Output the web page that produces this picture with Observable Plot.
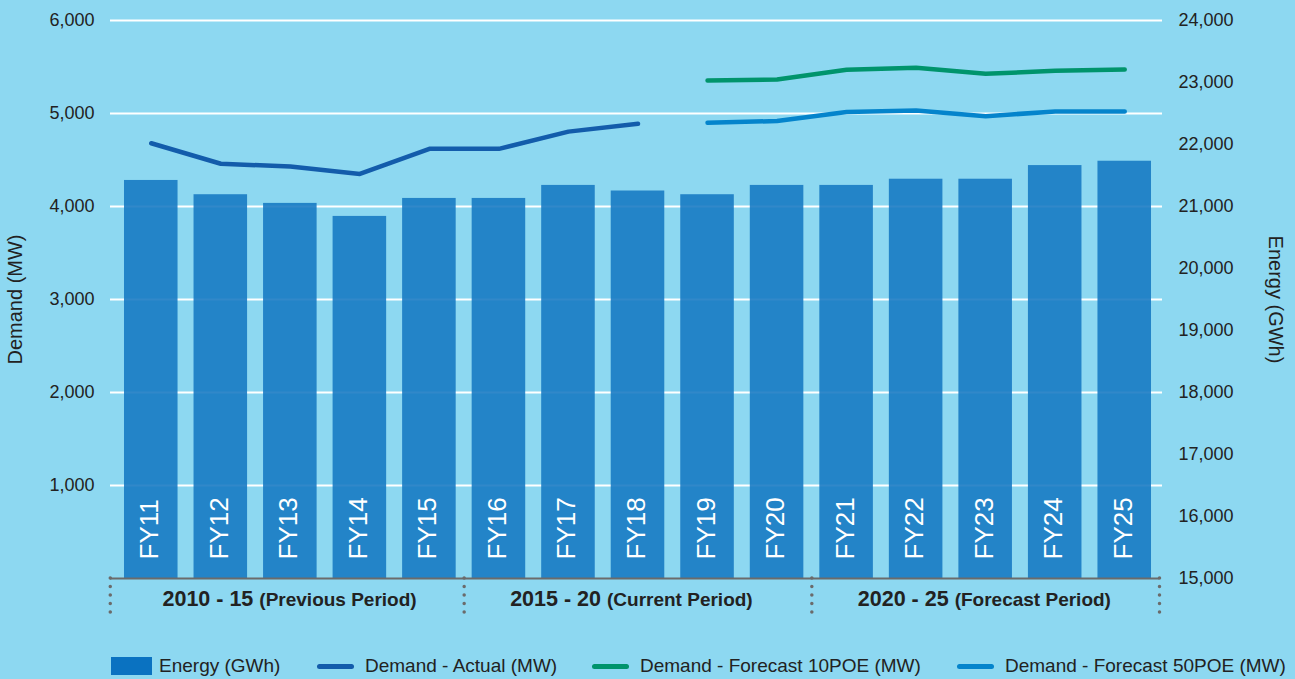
<!DOCTYPE html>
<html>
<head>
<meta charset="utf-8">
<script src="https://cdn.jsdelivr.net/npm/d3@7"></script>
<script src="https://cdn.jsdelivr.net/npm/@observablehq/plot@0.6"></script>
<style>
html, body { margin: 0; padding: 0; background: #8dd8f1; width: 1295px; height: 679px; overflow: hidden;
  font-family: "Liberation Sans", Arial, sans-serif; }
#chart { position: absolute; left: 0; top: 0; }
#legend { position: absolute; left: 0; top: 656px; width: 1295px; height: 20px; font-size: 19px; color: #222; }
.item { position: absolute; top: 0; height: 20px; display: flex; align-items: center; white-space: nowrap; }
.sw-rect { width: 41px; height: 18px; margin-right: 7px; }
.sw-line { width: 37px; height: 5px; border-radius: 3px; margin-right: 11px; }
</style>
</head>
<body>
<div id="chart"></div>
<div id="legend"></div>
<script>
// ---- data ----
const categories = ["FY11","FY12","FY13","FY14","FY15","FY16","FY17","FY18","FY19","FY20","FY21","FY22","FY23","FY24","FY25"];
const energyGWh = [21420, 21190, 21050, 20840, 21130, 21130, 21340, 21250, 21190, 21340, 21340, 21440, 21440, 21660, 21730];
const actualCats = ["FY11","FY12","FY13","FY14","FY15","FY16","FY17","FY18"];
const demandActual = [4680, 4460, 4430, 4350, 4620, 4620, 4805, 4890];
const forecastCats = ["FY19","FY20","FY21","FY22","FY23","FY24","FY25"];
const demand10POE = [5355, 5366, 5470, 5491, 5427, 5459, 5473];
const demand50POE = [4900, 4919, 5016, 5032, 4971, 5022, 5022];
const leftTicks = [1000, 2000, 3000, 4000, 5000, 6000];
const rightTicks = [15000, 16000, 17000, 18000, 19000, 20000, 21000, 22000, 23000, 24000];
const periodMid = ["FY13", "FY18", "FY23"];
const periodYears = ["2010 - 15", "2015 - 20", "2020 - 25"];
const periodNames = ["(Previous Period)", "(Current Period)", "(Forecast Period)"];
const legendLabels = ["Energy (GWh)", "Demand - Actual (MW)", "Demand - Forecast 10POE (MW)", "Demand - Forecast 50POE (MW)"];

// ---- styles ----
const colBar = "#1477c1", colActual = "#135cab", col10 = "#00946c", col50 = "#0484cc";
const font = "'Liberation Sans', Arial, sans-serif";

// energy (right axis 15,000–24,000) mapped into demand space (0–6,000)
const eMin = 15000, eMax = 24000, dMax = 6000;
const toLeft = e => (e - eMin) * dMax / (eMax - eMin);
const fromLeft = v => eMin + v * (eMax - eMin) / dMax;

const bars = categories.map((c, i) => ({cat: c, e: energyGWh[i]}));
const actual = actualCats.map((c, i) => ({cat: c, v: demandActual[i]}));
const f10 = forecastCats.map((c, i) => ({cat: c, v: demand10POE[i]}));
const f50 = forecastCats.map((c, i) => ({cat: c, v: demand50POE[i]}));

const W = 1295, H = 640, mL = 116, mR = 136, mT = 20, mB = 62;
const step = (W - mL - mR) / categories.length;
const fmt = d3.format(",");

const sepStyle = {stroke: "#6b6b6b", strokeWidth: 3.5, strokeDasharray: "0,8.5", strokeLinecap: "round",
  insetTop: H - mB - mT, insetBottom: -36};

const chart = Plot.plot({
  width: W, height: H, marginTop: mT, marginBottom: mB, marginLeft: mL, marginRight: mR,
  style: {background: "transparent", fontFamily: font, overflow: "visible"},
  x: {type: "band", domain: categories, paddingInner: 0.23, paddingOuter: 0.115, round: false, axis: null},
  y: {domain: [0, dMax], axis: null, label: null},
  marks: [
    Plot.ruleY(leftTicks, {stroke: "white", strokeWidth: 2, insetLeft: -6, insetRight: -3}),
    Plot.barY(bars, {x: "cat", y: d => toLeft(d.e), fill: colBar, fillOpacity: 0.88}),
    Plot.ruleY([0], {stroke: "#6b6b6b", strokeWidth: 2, insetLeft: -6, insetRight: 0}),
    Plot.ruleX(["FY11"], {...sepStyle, dx: -41}),
    Plot.ruleX(["FY16", "FY21"], {...sepStyle, dx: -step / 2}),
    Plot.ruleX(["FY25"], {...sepStyle, dx: step / 2}),
    Plot.text(bars, {x: "cat", text: "cat", frameAnchor: "bottom", dy: -19, dx: 7, rotate: -90, textAnchor: "start",
      fill: "white", fontSize: 26, fontFamily: font, letterSpacing: 0.5}),
    Plot.line(actual, {x: "cat", y: "v", stroke: colActual, strokeWidth: 4.5, strokeLinecap: "round", strokeLinejoin: "round"}),
    Plot.line(f10, {x: "cat", y: "v", stroke: col10, strokeWidth: 4.5, strokeLinecap: "round", strokeLinejoin: "round"}),
    Plot.line(f50, {x: "cat", y: "v", stroke: col50, strokeWidth: 4.5, strokeLinecap: "round", strokeLinejoin: "round"}),
    Plot.axisY({anchor: "left", ticks: leftTicks, tickSize: 0, tickPadding: 22, tickFormat: fmt,
      fontSize: 18, fill: "#222", label: null}),
    Plot.axisY({anchor: "right", ticks: rightTicks.map(toLeft), tickSize: 0, tickPadding: 19,
      tickFormat: v => fmt(Math.round(fromLeft(v))), fontSize: 18, fill: "#222", label: null}),
    Plot.text(["Demand (MW)"], {text: d => d, frameAnchor: "left", dx: -101, rotate: -90, textAnchor: "middle",
      fontSize: 20, fill: "#222"}),
    Plot.text(["Energy (GWh)"], {text: d => d, frameAnchor: "right", dx: 116, rotate: 90, textAnchor: "middle",
      fontSize: 20, fill: "#222"}),
    Plot.text(periodMid, {x: d => d, text: (d, i) => periodYears[i], frameAnchor: "bottom", dy: 27, dx: -37,
      textAnchor: "end", fontWeight: "bold", fontSize: 21.5, fill: "#222"}),
    Plot.text(periodMid, {x: d => d, text: (d, i) => periodNames[i], frameAnchor: "bottom", dy: 27, dx: -31,
      textAnchor: "start", fontWeight: "bold", fontSize: 19, fill: "#222"})
  ]
});
document.getElementById("chart").appendChild(chart);

// ---- legend ----
const legendLeft = [111, 317, 592, 957];
const legendKind = ["rect", "line", "line", "line"];
const legendColor = ["#0a72c1", colActual, col10, col50];
const legend = d3.select("#legend");
legendLabels.forEach((lab, i) => {
  const it = legend.append("div").attr("class", "item").style("left", legendLeft[i] + "px");
  it.append("div").attr("class", legendKind[i] === "rect" ? "sw-rect" : "sw-line").style("background", legendColor[i]);
  it.append("span").text(lab);
});
</script>
</body>
</html>
